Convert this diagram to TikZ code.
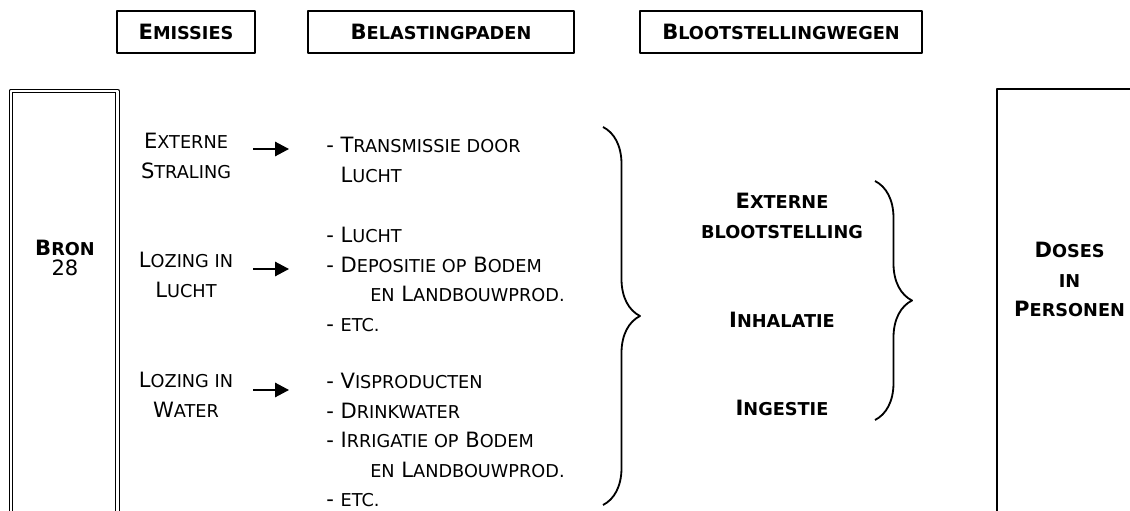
\documentclass[tikz,border=0pt]{standalone}
\usepackage{fontspec}
\setmainfont{DejaVu Sans}
\usetikzlibrary{arrows.meta,decorations.pathreplacing}
\newcommand{\kap}[1]{{\fontsize{12.6pt}{\the\baselineskip}\selectfont #1}}
\tikzset{
  kop/.style={draw,line width=1.3pt,minimum height=1.05cm,inner sep=0pt,font=\fontsize{15pt}{21pt}\selectfont\bfseries},
  tekst/.style={inner sep=0pt,font=\fontsize{15pt}{21pt}\selectfont},
  vet/.style={inner sep=0pt,font=\fontsize{15pt}{21pt}\selectfont\bfseries},
  pijl/.style={-{Triangle[length=0.35cm,width=0.36cm]},line width=1.3pt,shorten >=0.925cm},
  accolade/.style={decorate,decoration={brace,amplitude=0.925cm},line width=1.3pt}
}
\begin{document}
\begin{tikzpicture}[join=round] % Bron naar dosis
        \useasboundingbox (0,0) rectangle (28.25,12.75);
        \clip (0,0) rectangle (28.25,12.75);
        \node[kop,minimum width=3.45cm] (emissies) at (4.65,11.95) {E\kap{MISSIES}};
        \node[kop,minimum width=6.65cm] (belasting) at (11.025,11.95) {B\kap{ELASTINGPADEN}};
        \node[kop,minimum width=7.05cm] (blootst) at (19.525,11.95) {B\kap{LOOTSTELLINGWEGEN}};
        \draw[double,line width=1pt,double distance=1.5pt](0.275,-1)--(0.275,10.475)--(2.9375,10.475)--(2.9375,-1);
        \draw[line width=1.2pt](24.925,-1)--(24.925,10.525)--(29,10.525);
        \node[tekst,align=center,anchor=north,font=\fontsize{15pt}{14.2pt}\selectfont] (bron) at (1.625,6.75) {\textbf{B\kap{RON}}\\28};
        \node[tekst,align=center,anchor=north] (extst) at (4.65,9.425) {E\kap{XTERNE}\\S\kap{TRALING}};
        \node[tekst,align=center,anchor=north] (lozlucht) at (4.65,6.45) {L\kap{OZING IN}\\L\kap{UCHT}};
        \node[tekst,align=center,anchor=north] (lozwater) at (4.65,3.45) {L\kap{OZING IN}\\W\kap{ATER}};
        \node[tekst,align=left,anchor=north west] (transm) at (8.15,9.325) {- T\kap{RANSMISSIE DOOR}\\\phantom{- }L\kap{UCHT}};
        \node[tekst,align=left,anchor=north west] (padlucht) at (8.15,7.075) {- L\kap{UCHT}\\- D\kap{EPOSITIE OP} B\kap{ODEM}\\\hspace*{1.1cm}\kap{EN} L\kap{ANDBOUWPROD.}\\- \kap{ETC.}};
        \node[tekst,align=left,anchor=north west] (padwater) at (8.15,3.425) {- V\kap{ISPRODUCTEN}\\- D\kap{RINKWATER}\\- I\kap{RRIGATIE OP} B\kap{ODEM}\\\hspace*{1.1cm}\kap{EN} L\kap{ANDBOUWPROD.}\\- \kap{ETC.}};
        \draw[pijl] ([xshift=1.675cm,yshift=-0.4cm]extst.north) coordinate (p1) -- (p1 -| transm.west);
        \draw[pijl] ([xshift=1.675cm,yshift=-0.425cm]lozlucht.north) coordinate (p2) -- (p2 -| padlucht.west);
        \draw[pijl] ([xshift=1.675cm,yshift=-0.45cm]lozwater.north) coordinate (p3) -- (p3 -| padwater.west);
        \draw[accolade](15.075,9.575)--(15.075,0.125);
        \node[vet,align=center,anchor=north] (extbl) at (19.55,7.925) {E\kap{XTERNE}\\\kap{BLOOTSTELLING}};
        \node[vet,anchor=north] (inhal) at (19.55,4.95) {I\kap{NHALATIE}};
        \node[vet,anchor=north] (inges) at (19.55,2.75) {I\kap{NGESTIE}};
        \draw[accolade](21.875,8.225)--(21.875,2.25);
        \node[vet,align=center,anchor=north] (doses) at (26.74,6.7) {D\kap{OSES}\\\kap{IN}\\P\kap{ERSONEN}};
     \end{tikzpicture}
\end{document}
